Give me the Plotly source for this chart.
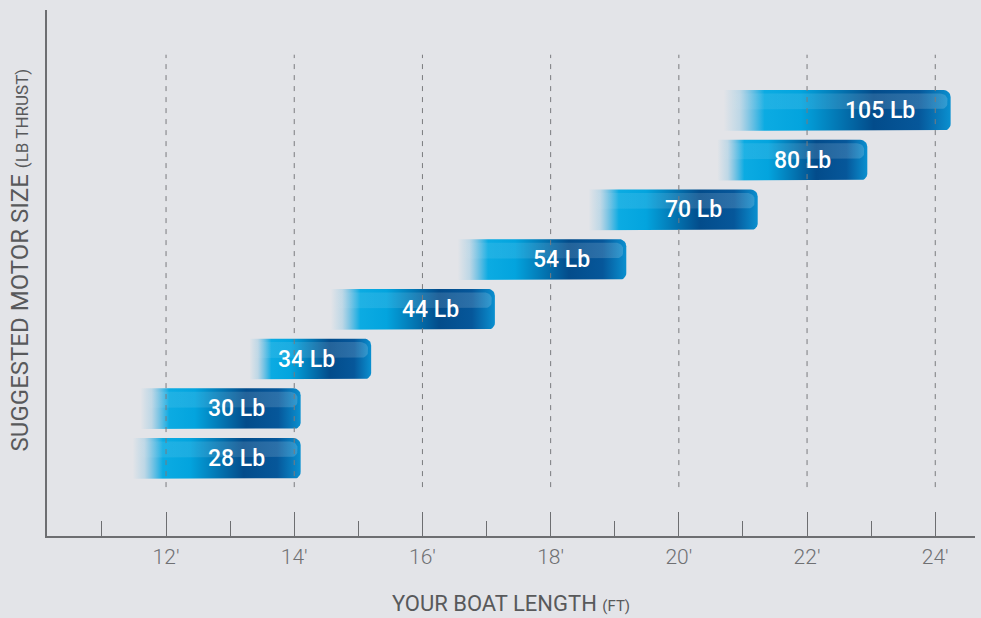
import numpy as np
import plotly.graph_objects as go

# ---- data ----
motor_labels = ["28 Lb", "30 Lb", "34 Lb", "44 Lb", "54 Lb", "70 Lb", "80 Lb", "105 Lb"]
boat_min_ft = [11.48, 11.6, 13.3, 14.57, 16.55, 18.59, 20.6, 20.7]
boat_max_ft = [14.1, 14.1, 15.2, 17.13, 19.18, 21.23, 22.94, 24.24]
major_ticks = [12, 14, 16, 18, 20, 22, 24]
major_tick_text = ["12'", "14'", "16'", "18'", "20'", "22'", "24'"]

BG = "#e3e4e8"
AXIS = "#6d6e71"

fig = go.Figure()

bar_scale = [
    [0.0, "rgba(40,165,222,0)"],
    [0.07, "rgba(40,165,222,0.2)"],
    [0.18, "rgba(0,168,226,0.95)"],
    [0.34, "#03a4de"],
    [0.66, "#034c8b"],
    [0.86, "#06579a"],
    [1.0, "#0a90d0"],
]
hl_scale = [
    [0.0, "rgba(255,255,255,0)"],
    [0.15, "rgba(255,255,255,0.08)"],
    [1.0, "rgba(255,255,255,0.16)"],
]

h = 0.41
rx, ry = 0.11, 0.14


def rounded_right(x0, x1, yb, yt, rx, ry):
    xs, ys = [x0], [yb]
    a = np.linspace(-np.pi / 2, 0, 8)
    xs += list(x1 - rx + rx * np.cos(a))
    ys += list(yb + ry + ry * np.sin(a))
    a = np.linspace(0, np.pi / 2, 8)
    xs += list(x1 - rx + rx * np.cos(a))
    ys += list(yt - ry + ry * np.sin(a))
    xs += [x0, x0]
    ys += [yt, yb]
    return xs, ys


for i, (lab, a0, a1) in enumerate(zip(motor_labels, boat_min_ft, boat_max_ft)):
    xs, ys = rounded_right(a0, a1, i - h, i + h, rx, ry)
    fig.add_trace(go.Scatter(
        x=xs, y=ys, mode="lines", fill="toself",
        line=dict(width=0, color="rgba(0,0,0,0)"),
        fillgradient=dict(type="horizontal", colorscale=bar_scale),
        hoverinfo="skip", showlegend=False,
    ))
    hx, hy = rounded_right(a0 + 0.05, a1 - 0.05, i + 0.02, i + h - 0.07, 0.12, 0.12)
    fig.add_trace(go.Scatter(
        x=hx, y=hy, mode="lines", fill="toself",
        line=dict(width=0, color="rgba(0,0,0,0)"),
        fillgradient=dict(type="horizontal", colorscale=hl_scale),
        hoverinfo="skip", showlegend=False,
    ))
    fig.add_annotation(
        x=a1, y=i, text=lab, showarrow=False, xanchor="right", yanchor="middle",
        xshift=-34, font=dict(family="Roboto", size=23, color="white", weight=500),
    )

# dashed gridlines (partial height)
for t in major_ticks:
    fig.add_shape(type="line", xref="x", yref="paper", x0=t, x1=t, y0=0.093, y1=0.915,
                  line=dict(color="#7a7b7e", width=1, dash="5px,6px"), layer="above")

# y-axis title as a rotated annotation (slightly above plot centre, as in the original)
fig.add_annotation(
    xref="paper", yref="paper", x=0, y=0.524, xanchor="center", yanchor="middle",
    xshift=-27, textangle=-90, showarrow=False,
    text="SUGGESTED MOTOR SIZE <span style='font-size:17px'>(LB THRUST)</span>",
    font=dict(family="Roboto", size=24, color="#58595b"),
)

fig.update_xaxes(
    range=[10.143, 24.62], tickmode="array", tickvals=major_ticks, ticktext=major_tick_text,
    ticks="inside", ticklen=24, tickwidth=1.3, tickcolor=AXIS,
    minor=dict(dtick=1, tick0=11, ticks="inside", ticklen=15, tickwidth=1.3, tickcolor=AXIS, showgrid=False),
    showgrid=False, zeroline=False, showline=True, linecolor=AXIS, linewidth=1.5,
    tickfont=dict(family="Roboto", size=21, color="#6f7073", weight=300),
    ticklabelstandoff=1,
    title=dict(text="YOUR BOAT LENGTH <span style='font-size:15px'>(FT)</span>",
               font=dict(family="Roboto", size=22, color="#58595b"), standoff=28),
)
fig.update_yaxes(
    range=[-1.56, 9.02], showticklabels=False, ticks="", showgrid=False, zeroline=False,
    showline=True, linecolor=AXIS, linewidth=1.5,
)
fig.update_layout(
    width=981, height=618, paper_bgcolor=BG, plot_bgcolor=BG,
    margin=dict(l=47, r=6, t=10, b=79), showlegend=False,
)

fig.write_html("out.html", config={"displayModeBar": False},
               post_script="document.body.style.margin='0';document.body.style.background='%s';" % BG)
